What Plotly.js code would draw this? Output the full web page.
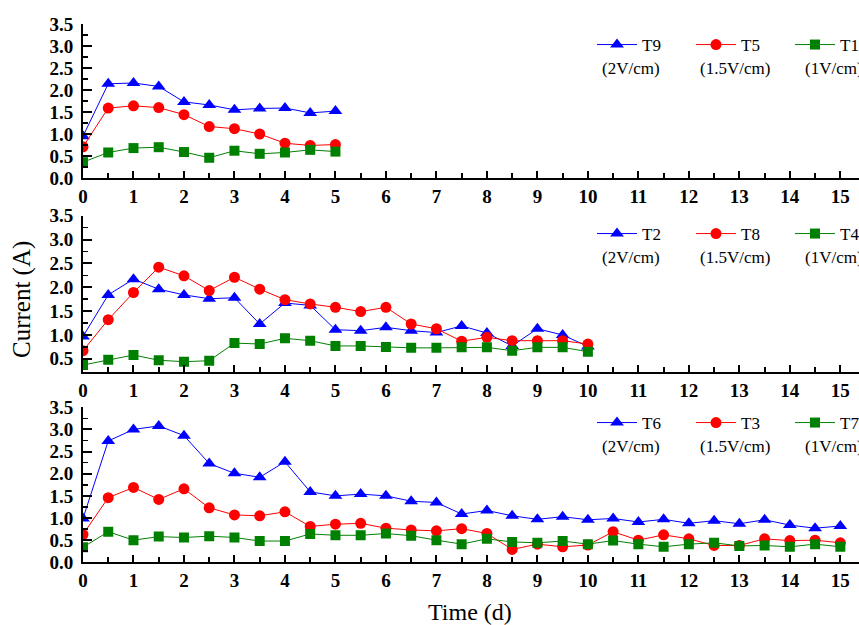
<!DOCTYPE html>
<html>
<head>
<meta charset="utf-8">
<script src="https://cdn.plot.ly/plotly-3.0.1.min.js"></script>
<style>html,body{margin:0;padding:0;background:#fff;}#chart{width:859px;height:625px;}</style>
</head>
<body>
<div id="chart"></div>
<script>
// Time (d)
const time5 = [0,0.5,1,1.5,2,2.5,3,3.5,4,4.5,5];
const time10 = [0,0.5,1,1.5,2,2.5,3,3.5,4,4.5,5,5.5,6,6.5,7,7.5,8,8.5,9,9.5,10];
const time15 = [0,0.5,1,1.5,2,2.5,3,3.5,4,4.5,5,5.5,6,6.5,7,7.5,8,8.5,9,9.5,10,10.5,11,11.5,12,12.5,13,13.5,14,14.5,15];

// Panel 1
const T9 = [0.95,2.14,2.16,2.08,1.73,1.66,1.55,1.58,1.59,1.48,1.52];
const T5 = [0.71,1.59,1.64,1.60,1.44,1.17,1.12,1.00,0.79,0.74,0.76];
const T1 = [0.36,0.58,0.68,0.70,0.59,0.46,0.62,0.55,0.58,0.64,0.60];

// Panel 2
const T2 = [0.97,1.84,2.17,1.96,1.84,1.76,1.78,1.23,1.67,1.62,1.11,1.09,1.16,1.09,1.05,1.19,1.04,0.77,1.13,1.00,0.76];
const T8 = [0.67,1.32,1.89,2.42,2.24,1.93,2.21,1.96,1.74,1.65,1.58,1.49,1.58,1.23,1.13,0.87,0.95,0.88,0.88,0.88,0.81];
const T4 = [0.37,0.48,0.58,0.47,0.44,0.46,0.83,0.81,0.93,0.88,0.77,0.77,0.75,0.73,0.73,0.74,0.74,0.67,0.74,0.74,0.65];

// Panel 3
const T6 = [0.99,2.74,3.00,3.08,2.86,2.23,2.01,1.92,2.27,1.59,1.50,1.54,1.50,1.38,1.35,1.09,1.17,1.05,0.97,1.03,0.96,0.99,0.91,0.97,0.88,0.94,0.87,0.96,0.84,0.77,0.82];
const T3 = [0.63,1.46,1.69,1.42,1.66,1.23,1.07,1.05,1.14,0.81,0.86,0.88,0.77,0.73,0.71,0.76,0.65,0.29,0.41,0.35,0.39,0.69,0.50,0.62,0.53,0.38,0.38,0.53,0.49,0.50,0.44];
const T7 = [0.34,0.69,0.50,0.58,0.56,0.59,0.56,0.48,0.48,0.64,0.61,0.61,0.65,0.60,0.50,0.41,0.53,0.46,0.44,0.48,0.41,0.49,0.41,0.35,0.41,0.44,0.37,0.38,0.35,0.41,0.35];

const fieldLabels = ['(2V/cm)','(1.5V/cm)','(1V/cm)'];
const xTickVals = [0,1,2,3,4,5,6,7,8,9,10,11,12,13,14,15];

const BLUE='#0000ff', RED='#ff0000', GREEN='#008000';
const SERIF='Liberation Serif, Times New Roman, serif';
function tr(x,y,name,color,symbol,size,ax,leg){
  return {x:x,y:y,name:name,type:'scatter',mode:'lines+markers',
    xaxis:'x'+ax, yaxis:'y'+ax, legend:leg,
    line:{color:color,width:1},
    marker:{color:color,symbol:symbol,size:size,line:{width:0}}};
}
const data = [
  tr(time5,T9,'T9',BLUE,'triangle-up',12,'', 'legend'),
  tr(time5,T5,'T5',RED,'circle',11,'', 'legend'),
  tr(time5,T1,'T1',GREEN,'square',10,'', 'legend'),
  tr(time10,T2,'T2',BLUE,'triangle-up',12,'2','legend2'),
  tr(time10,T8,'T8',RED,'circle',11,'2','legend2'),
  tr(time10,T4,'T4',GREEN,'square',10,'2','legend2'),
  tr(time15,T6,'T6',BLUE,'triangle-up',12,'3','legend3'),
  tr(time15,T3,'T3',RED,'circle',11,'3','legend3'),
  tr(time15,T7,'T7',GREEN,'square',10,'3','legend3')
];

const W=859,H=625,L=83,PW=W-L;
const tickFont={family:SERIF,size:19,color:'#000',weight:'bold'};
function xax(dom){
  return {domain:[0,1],anchor:dom,range:[0,15.37],showline:true,linewidth:2,linecolor:'#000',
    ticks:'inside',ticklen:7,tickwidth:2,tickcolor:'#000',tickvals:xTickVals,
    minor:{dtick:0.5,tick0:0,ticks:'inside',ticklen:5,tickwidth:2,tickcolor:'#000'},
    showgrid:false,zeroline:false,tickfont:tickFont,fixedrange:true};
}
function yax(dom,range,xa){
  return {domain:dom,anchor:xa,range:range,showline:true,linewidth:2,linecolor:'#000',
    ticks:'inside',ticklen:9,tickwidth:2,tickcolor:'#000',dtick:0.5,tick0:0,tickformat:'.1f',
    minor:{dtick:0.25,tick0:0,ticks:'inside',ticklen:5,tickwidth:1.5,tickcolor:'#000'},
    showgrid:false,zeroline:false,tickfont:tickFont,fixedrange:true,ticklabelstandoff:4};
}
function py(p){return 1-p/H;}
function px(p){return (p-L)/PW;}
const legCommon = {orientation:'h',xanchor:'left',yanchor:'middle',bgcolor:'rgba(0,0,0,0)',
  font:{family:SERIF,size:17,color:'#000'},
  itemwidth:40,entrywidth:44,entrywidthmode:'pixels',tracegroupgap:0};
const legRows=[45,234,423];
const layout = {
  width:W,height:H,margin:{l:L,r:0,t:0,b:0,autoexpand:false},paper_bgcolor:'#fff',plot_bgcolor:'#fff',
  showlegend:true,
  xaxis:xax('y'), yaxis:yax([py(178),py(24)],[0,3.5],'x'),
  xaxis2:xax('y2'), yaxis2:yax([py(371.7),py(215.7)],[0.23,3.5],'x2'),
  xaxis3:xax('y3'), yaxis3:yax([py(562.3),py(407.3)],[0,3.5],'x3'),
  legend:Object.assign({x:px(592),y:py(legRows[0])},legCommon),
  legend2:Object.assign({x:px(592),y:py(legRows[1])},legCommon),
  legend3:Object.assign({x:px(592),y:py(legRows[2])},legCommon),
  annotations:[],
};
const subX=[631,735,803];
legRows.forEach(r=>{
  fieldLabels.forEach((t,i)=>{
    layout.annotations.push({xref:'paper',yref:'paper',x:px(subX[i]),y:py(r+23),
      xanchor:i===2?'left':'center',yanchor:'middle',showarrow:false,text:t,
      font:{family:SERIF,size:17,color:'#000'}});
  });
});
layout.annotations.push({xref:'paper',yref:'paper',x:px(22),y:py(300),textangle:-90,showarrow:false,
  text:'Current (A)',xanchor:'center',yanchor:'middle',font:{family:SERIF,size:25,color:'#000'}});
layout.annotations.push({xref:'paper',yref:'paper',x:px(470),y:py(612),showarrow:false,
  text:'Time (d)',xanchor:'center',yanchor:'middle',font:{family:SERIF,size:24,color:'#000'}});
Plotly.newPlot('chart',data,layout,{displayModeBar:false,staticPlot:true});
</script>
</body>
</html>
